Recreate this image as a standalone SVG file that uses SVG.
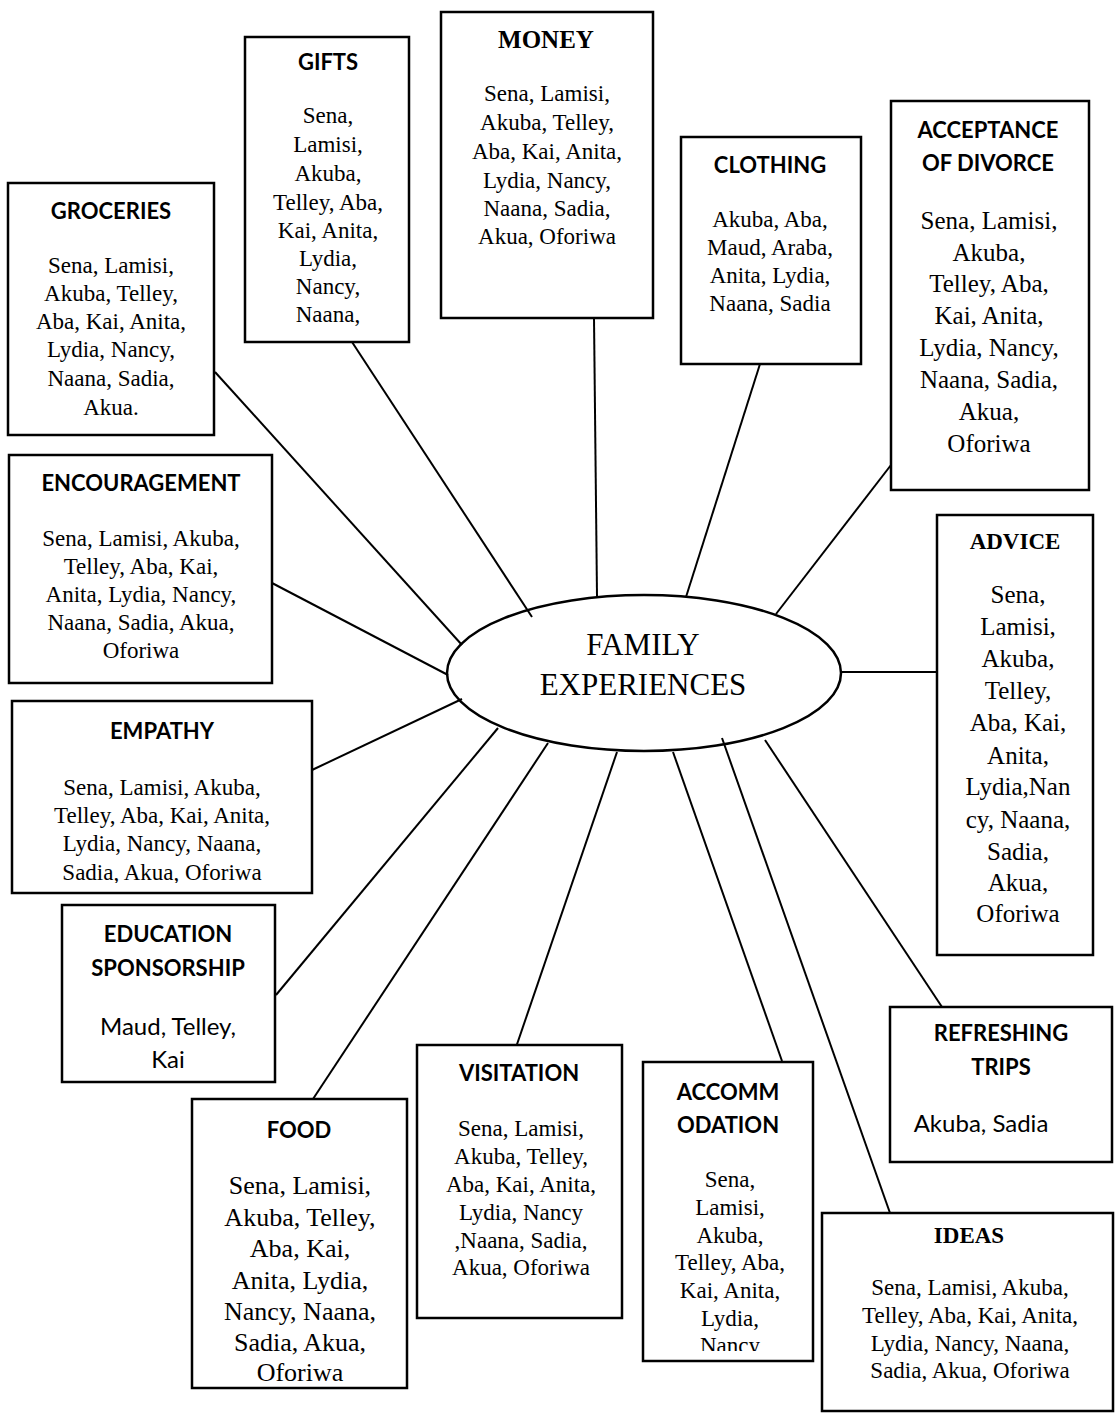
<svg xmlns="http://www.w3.org/2000/svg" width="1120" height="1413" viewBox="0 0 1120 1413">
  <defs>
    <style>
      .box { fill: #fff; stroke: #000; stroke-width: 2.5; }
      .hub { fill: #fff; stroke: #000; stroke-width: 2.5; }
      .conn line { stroke: #000; stroke-width: 2; }
      .ht { font-family: Lato, "Open Sans", sans-serif; font-weight: 700; font-size: 22px; text-anchor: middle; fill: #000; }
      .hs { font-family: "Liberation Serif", serif; font-weight: 700; font-size: 23px; text-anchor: middle; fill: #000; }
      .b { font-family: "Liberation Serif", serif; font-size: 23px; text-anchor: middle; fill: #000; }
      .bl { font-family: "Liberation Serif", serif; font-size: 25px; text-anchor: middle; fill: #000; }
      .bx { font-family: "Liberation Serif", serif; font-size: 26px; text-anchor: middle; fill: #000; }
      .bn { font-family: Lato, "Open Sans", sans-serif; font-size: 24px; text-anchor: middle; fill: #000; }
      .hubt { font-family: "Liberation Serif", serif; font-size: 31px; text-anchor: middle; fill: #000; }
    </style>
    <clipPath id="clipEmpathy"><rect x="12" y="700" width="300" height="183"/></clipPath>
    <clipPath id="clipAccomm"><rect x="643" y="1062" width="170" height="289"/></clipPath>
  </defs>

  <rect width="1120" height="1413" fill="#fff"/>

  <!-- central topic -->
  <g id="family-experiences">
    <ellipse class="hub" cx="644" cy="673" rx="197" ry="78"/>
    <text class="hubt" x="643" y="655">FAMILY</text>
    <text class="hubt" x="643" y="695">EXPERIENCES</text>
  </g>

  <!-- spokes -->
  <g id="connectors" class="conn">
    <line x1="215" y1="372" x2="462" y2="645"/>
    <line x1="352" y1="342" x2="532" y2="617"/>
    <line x1="594" y1="318" x2="597" y2="596"/>
    <line x1="760" y1="364" x2="686" y2="597"/>
    <line x1="891" y1="465" x2="776" y2="614"/>
    <line x1="272" y1="583" x2="448" y2="675"/>
    <line x1="312" y1="770" x2="462" y2="699"/>
    <line x1="841" y1="672" x2="937" y2="672"/>
    <line x1="276" y1="995" x2="498" y2="728"/>
    <line x1="313" y1="1099" x2="548" y2="743"/>
    <line x1="513" y1="1056" x2="617" y2="752"/>
    <line x1="782" y1="1061" x2="673" y2="752"/>
    <line x1="890" y1="1213" x2="722" y2="738"/>
    <line x1="942" y1="1007" x2="765" y2="740"/>
  </g>

  <g id="groceries">
    <rect class="box" x="8" y="183" width="206" height="252"/>
    <text class="ht" x="111" y="219">GROCERIES</text>
    <text class="b" x="111" y="273">Sena, Lamisi,</text>
    <text class="b" x="111" y="301">Akuba, Telley,</text>
    <text class="b" x="111" y="329">Aba, Kai, Anita,</text>
    <text class="b" x="111" y="357">Lydia, Nancy,</text>
    <text class="b" x="111" y="386">Naana, Sadia,</text>
    <text class="b" x="111" y="415">Akua.</text>
  </g>

  <g id="gifts">
    <rect class="box" x="245" y="37" width="164" height="305"/>
    <text class="ht" x="328" y="70">GIFTS</text>
    <text class="b" x="328" y="123">Sena,</text>
    <text class="b" x="328" y="152">Lamisi,</text>
    <text class="b" x="328" y="181">Akuba,</text>
    <text class="b" x="328" y="210">Telley, Aba,</text>
    <text class="b" x="328" y="238">Kai, Anita,</text>
    <text class="b" x="328" y="266">Lydia,</text>
    <text class="b" x="328" y="294">Nancy,</text>
    <text class="b" x="328" y="322">Naana,</text>
  </g>

  <g id="money">
    <rect class="box" x="441" y="12" width="212" height="306"/>
    <text class="hs" x="546" y="48" style="font-size:25px">MONEY</text>
    <text class="b" x="547" y="101">Sena, Lamisi,</text>
    <text class="b" x="547" y="130">Akuba, Telley,</text>
    <text class="b" x="547" y="159">Aba, Kai, Anita,</text>
    <text class="b" x="547" y="188">Lydia, Nancy,</text>
    <text class="b" x="547" y="216">Naana, Sadia,</text>
    <text class="b" x="547" y="244">Akua, Oforiwa</text>
  </g>

  <g id="clothing">
    <rect class="box" x="681" y="137" width="180" height="227"/>
    <text class="ht" x="770" y="173">CLOTHING</text>
    <text class="b" x="770" y="227">Akuba, Aba,</text>
    <text class="b" x="770" y="255">Maud, Araba,</text>
    <text class="b" x="770" y="283">Anita, Lydia,</text>
    <text class="b" x="770" y="311">Naana, Sadia</text>
  </g>

  <g id="acceptance-of-divorce">
    <rect class="box" x="891" y="101" width="198" height="389"/>
    <text class="ht" x="988" y="138">ACCEPTANCE</text>
    <text class="ht" x="988" y="171">OF DIVORCE</text>
    <text class="bl" x="989" y="229">Sena, Lamisi,</text>
    <text class="bl" x="989" y="261">Akuba,</text>
    <text class="bl" x="989" y="292">Telley, Aba,</text>
    <text class="bl" x="989" y="324">Kai, Anita,</text>
    <text class="bl" x="989" y="356">Lydia, Nancy,</text>
    <text class="bl" x="989" y="388">Naana, Sadia,</text>
    <text class="bl" x="989" y="420">Akua,</text>
    <text class="bl" x="989" y="452">Oforiwa</text>
  </g>

  <g id="encouragement">
    <rect class="box" x="9" y="455" width="263" height="228"/>
    <text class="ht" x="141" y="491">ENCOURAGEMENT</text>
    <text class="b" x="141" y="546">Sena, Lamisi, Akuba,</text>
    <text class="b" x="141" y="574">Telley, Aba, Kai,</text>
    <text class="b" x="141" y="602">Anita, Lydia, Nancy,</text>
    <text class="b" x="141" y="630">Naana, Sadia, Akua,</text>
    <text class="b" x="141" y="658">Oforiwa</text>
  </g>

  <g id="empathy">
    <rect class="box" x="12" y="701" width="300" height="192"/>
    <text class="ht" x="162" y="739">EMPATHY</text>
    <g clip-path="url(#clipEmpathy)">
      <text class="b" x="162" y="795">Sena, Lamisi, Akuba,</text>
      <text class="b" x="162" y="823">Telley, Aba, Kai, Anita,</text>
      <text class="b" x="162" y="851">Lydia, Nancy, Naana,</text>
      <text class="b" x="162" y="880">Sadia, Akua, Oforiwa</text>
    </g>
  </g>

  <g id="advice">
    <rect class="box" x="937" y="515" width="156" height="440"/>
    <text class="hs" x="1015" y="549">ADVICE</text>
    <text class="bl" x="1018" y="603">Sena,</text>
    <text class="bl" x="1018" y="635">Lamisi,</text>
    <text class="bl" x="1018" y="667">Akuba,</text>
    <text class="bl" x="1018" y="699">Telley,</text>
    <text class="bl" x="1018" y="731">Aba, Kai,</text>
    <text class="bl" x="1018" y="764">Anita,</text>
    <text class="bl" x="1018" y="795">Lydia,Nan</text>
    <text class="bl" x="1018" y="828">cy, Naana,</text>
    <text class="bl" x="1018" y="860">Sadia,</text>
    <text class="bl" x="1018" y="891">Akua,</text>
    <text class="bl" x="1018" y="922">Oforiwa</text>
  </g>

  <g id="education-sponsorship">
    <rect class="box" x="62" y="905" width="213" height="177"/>
    <text class="ht" x="168" y="942">EDUCATION</text>
    <text class="ht" x="168" y="976">SPONSORSHIP</text>
    <text class="bn" x="168" y="1035">Maud, Telley,</text>
    <text class="bn" x="168" y="1068">Kai</text>
  </g>

  <g id="food">
    <rect class="box" x="192" y="1099" width="215" height="289"/>
    <text class="ht" x="299" y="1138">FOOD</text>
    <text class="bx" x="300" y="1194">Sena, Lamisi,</text>
    <text class="bx" x="300" y="1226">Akuba, Telley,</text>
    <text class="bx" x="300" y="1257">Aba, Kai,</text>
    <text class="bx" x="300" y="1289">Anita, Lydia,</text>
    <text class="bx" x="300" y="1320">Nancy, Naana,</text>
    <text class="bx" x="300" y="1351">Sadia, Akua,</text>
    <text class="bx" x="300" y="1381">Oforiwa</text>
  </g>

  <g id="visitation">
    <rect class="box" x="417" y="1045" width="205" height="273"/>
    <text class="ht" x="519" y="1081">VISITATION</text>
    <text class="b" x="521" y="1136">Sena, Lamisi,</text>
    <text class="b" x="521" y="1164">Akuba, Telley,</text>
    <text class="b" x="521" y="1192">Aba, Kai, Anita,</text>
    <text class="b" x="521" y="1220">Lydia, Nancy</text>
    <text class="b" x="521" y="1248">,Naana, Sadia,</text>
    <text class="b" x="521" y="1275">Akua, Oforiwa</text>
  </g>

  <g id="accommodation">
    <rect class="box" x="643" y="1062" width="170" height="299"/>
    <text class="ht" x="728" y="1100">ACCOMM</text>
    <text class="ht" x="728" y="1133">ODATION</text>
    <g clip-path="url(#clipAccomm)">
      <text class="b" x="730" y="1187">Sena,</text>
      <text class="b" x="730" y="1215">Lamisi,</text>
      <text class="b" x="730" y="1243">Akuba,</text>
      <text class="b" x="730" y="1270">Telley, Aba,</text>
      <text class="b" x="730" y="1298">Kai, Anita,</text>
      <text class="b" x="730" y="1326">Lydia,</text>
      <text class="b" x="730" y="1353">Nancy</text>
    </g>
  </g>

  <g id="refreshing-trips">
    <rect class="box" x="890" y="1007" width="222" height="155"/>
    <text class="ht" x="1001" y="1041">REFRESHING</text>
    <text class="ht" x="1001" y="1075">TRIPS</text>
    <text class="bn" x="981" y="1132">Akuba, Sadia</text>
  </g>

  <g id="ideas">
    <rect class="box" x="822" y="1213" width="291" height="198"/>
    <text class="hs" x="969" y="1243">IDEAS</text>
    <text class="b" x="970" y="1295">Sena, Lamisi, Akuba,</text>
    <text class="b" x="970" y="1323">Telley, Aba, Kai, Anita,</text>
    <text class="b" x="970" y="1351">Lydia, Nancy, Naana,</text>
    <text class="b" x="970" y="1378">Sadia, Akua, Oforiwa</text>
  </g>
</svg>
